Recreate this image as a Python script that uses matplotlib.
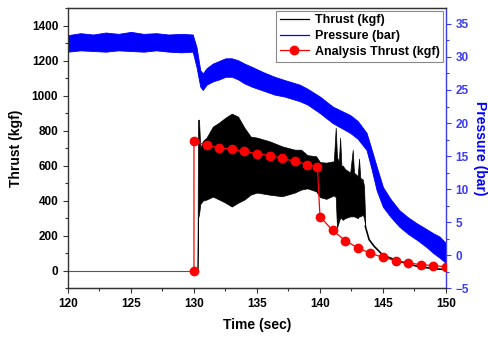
import matplotlib
matplotlib.use("Agg")
import matplotlib.pyplot as plt
from matplotlib.lines import Line2D
from matplotlib.ticker import MultipleLocator

plt.rcParams['font.family'] = ['Liberation Sans', 'DejaVu Sans']
plt.rcParams['font.weight'] = 'bold'

# ---- Thrust (kgf): zero line, oscillating band envelope, decay tail ----
thrust_zero_t = [120, 130.28]
thrust_zero_v = [0, 0]

thrust_band_t = [130.28, 130.32, 130.40, 130.50, 130.70, 131.0, 131.5, 132.0, 132.5, 133.0,
                 133.5, 134.0, 134.5, 135.0, 136.0, 137.0, 138.0, 138.5, 139.0, 139.7,
                 140.0, 140.5, 141.1, 141.25, 141.35, 141.5, 141.6, 141.7, 141.8, 142.0,
                 142.4, 142.6, 142.7, 143.0, 143.1, 143.2, 143.4, 143.5, 143.6]
thrust_band_hi = [0, 860, 863, 700, 740, 760, 823, 846, 874, 897,
                  880, 817, 766, 760, 739, 710, 691, 691, 660, 653,
                  620, 617, 625, 817, 650, 620, 760, 600, 600, 580,
                  560, 690, 560, 540, 640, 530, 520, 480, 253]
thrust_band_lo = [0, 300, 320, 380, 400, 406, 423, 406, 388, 366,
                  388, 406, 434, 446, 434, 425, 446, 463, 470, 453,
                  420, 410, 430, 420, 246, 280, 300, 300, 290, 300,
                  310, 310, 310, 300, 310, 310, 320, 300, 253]

thrust_tail_t = [143.6, 143.9, 144.3, 145.0, 146.3, 147.7, 149.0, 150.0]
thrust_tail_v = [253, 177, 139, 88, 53, 25, 11, 6]

# ---- Pressure (bar): noisy band envelope ----
press_t = [120, 121, 122, 123, 124, 125, 126, 127, 128, 129, 129.9, 130.2, 130.5, 130.7,
           131.0, 131.5, 132.0, 132.5, 133.0, 133.5, 134.0, 134.6, 135.5, 136.4, 137.2,
           138.4, 139.0, 140.0, 141.0, 142.4, 143.0, 143.7, 144.1, 144.5, 145.0, 145.6,
           146.3, 147.0, 147.7, 148.4, 149.0, 149.5, 150.0]
press_hi = [33.3, 33.6, 33.4, 33.7, 33.5, 33.8, 33.5, 33.6, 33.4, 33.5, 33.4, 31.5, 28.0, 27.5,
            28.3, 29.0, 29.4, 29.8, 29.8, 29.5, 29.0, 28.5, 27.7, 27.0, 26.5,
            25.8, 25.2, 24.0, 22.5, 21.2, 20.3, 18.5, 16.0, 13.4, 10.3, 8.5,
            6.8, 5.7, 4.8, 4.0, 3.3, 2.8, 1.8]
press_lo = [30.8, 31.0, 30.9, 30.8, 31.0, 30.9, 30.8, 31.0, 30.8, 30.7, 30.8, 28.5, 25.5, 25.0,
            25.8, 26.3, 26.6, 27.0, 27.0, 26.6, 26.0, 25.5, 24.9, 24.3, 24.0,
            23.3, 22.8, 21.5, 20.0, 18.5, 17.6, 15.9, 13.0, 9.8, 7.3, 5.8,
            4.3, 3.2, 2.3, 1.3, 0.3, -0.4, -1.2]

# ---- Analysis Thrust (kgf) ----
analysis_t = [130, 130, 131, 132, 133, 134, 135, 136, 137, 138, 139, 139.8, 140,
              141, 142, 143, 144, 145, 146, 147, 148, 149, 150]
analysis_v = [0, 739, 716, 703, 693, 682, 669, 657, 641, 625, 606, 592, 309,
              230, 172, 130, 99, 76, 57, 45, 34, 29, 22]

blue = '#0000ff'
axblue = '#3c3cf0'

fig = plt.figure(figsize=(4.89, 3.37), dpi=100)
ax = fig.add_axes([0.139, 0.145, 0.773, 0.831])
ax2 = ax.twinx()

# pressure (right axis)
ax2.fill_between(press_t, press_lo, press_hi, color=blue, lw=0.6, edgecolor=blue)
ax2.set_ylim(-5, 37.4)
ax2.yaxis.set_major_locator(MultipleLocator(5))
ax2.yaxis.set_minor_locator(MultipleLocator(2.5))
ax2.set_ylabel('Pressure (bar)', color=blue, fontsize=10, fontweight='bold',
               rotation=270, labelpad=13)
ax2.tick_params(axis='y', which='both', colors=axblue, labelcolor=axblue, direction='out',
                labelsize=8.5, width=0.8)
ax2.tick_params(axis='y', which='major', length=3.5)
ax2.tick_params(axis='y', which='minor', length=2)
ax2.spines['right'].set_color(axblue)
ax2.spines['right'].set_linewidth(1.0)

# thrust (left axis) drawn above pressure
ax.set_zorder(ax2.get_zorder() + 1)
ax.patch.set_visible(False)
ax.plot(thrust_zero_t, thrust_zero_v, color='#555555', lw=0.8)
ax.fill_between(thrust_band_t, thrust_band_lo, thrust_band_hi, color='black', lw=0.5,
                edgecolor='black')
ax.plot(thrust_tail_t, thrust_tail_v, color='black', lw=1.2)
ax.plot(analysis_t, analysis_v, color='red', lw=0.9, marker='o', markersize=6,
        markerfacecolor='red', markeredgecolor='red', zorder=5)

ax.set_xlim(120, 150)
ax.set_ylim(-100, 1500)
ax.xaxis.set_major_locator(MultipleLocator(5))
ax.xaxis.set_minor_locator(MultipleLocator(2.5))
ax.yaxis.set_major_locator(MultipleLocator(200))
ax.yaxis.set_minor_locator(MultipleLocator(100))
ax.set_yticks([0, 200, 400, 600, 800, 1000, 1200, 1400])
ax.tick_params(axis='both', which='both', direction='out', labelsize=8.5, width=0.8,
               colors='#333333', labelcolor='black')
ax.tick_params(axis='both', which='major', length=3.5)
ax.tick_params(axis='both', which='minor', length=2)
ax.set_xlabel('Time (sec)', fontsize=10, fontweight='bold', labelpad=6)
ax.set_ylabel('Thrust (kgf)', fontsize=10, fontweight='bold', labelpad=6)
for s in ['left', 'bottom', 'top']:
    ax.spines[s].set_color('#333333')
    ax.spines[s].set_linewidth(1.0)
ax.spines['right'].set_visible(False)
ax2.spines['top'].set_color('#333333')
ax2.spines['left'].set_visible(False)

handles = [Line2D([], [], color='black', lw=0.9),
           Line2D([], [], color=blue, lw=0.9),
           Line2D([], [], color='red', lw=0.9, marker='o', markersize=6)]
labels = ['Thrust (kgf)', 'Pressure (bar)', 'Analysis Thrust (kgf)']
leg = ax.legend(handles, labels, loc='upper right', fancybox=False, framealpha=1,
                edgecolor='#888888', prop={'weight': 'bold', 'size': 9},
                borderaxespad=0.2, handlelength=2.3, labelspacing=0.3,
                borderpad=0.3, handletextpad=0.5)
leg.get_frame().set_linewidth(0.8)

fig.savefig('out.png', dpi=100)
